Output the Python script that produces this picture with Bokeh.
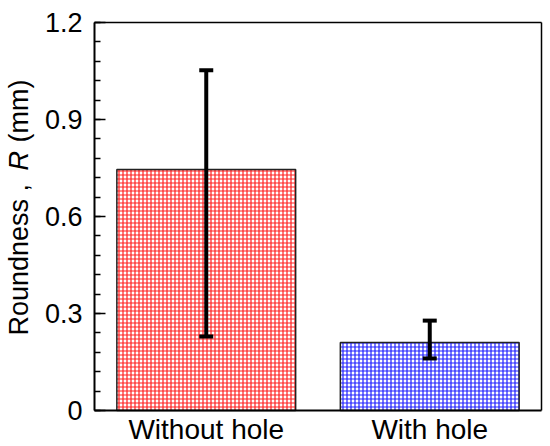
import math
from bokeh.plotting import figure
from bokeh.models import (ColumnDataSource, FixedTicker, Range1d, Label, Whisker, TeeHead, LinearAxis)
from bokeh.embed import file_html
from bokeh.resources import INLINE

categories = ["Without hole", "With hole"]
positions = [1, 2]
means = [0.745, 0.210]
upper = [1.052, 0.278]
lower = [0.229, 0.161]
hatch_colors = ["#ff2020", "#2020ff"]
y_ticks = [0, 0.3, 0.6, 0.9, 1.2]
y_tick_labels = ["0", "0.3", "0.6", "0.9", "1.2"]
y_minor = [round(i * 0.06, 2) for i in range(21)]

FONT = "Liberation Sans"
FS = "27px"

# layout (pixels): plotting box from x=94..541, y=22..410 inside a 544x446 canvas
W, H = 544, 446
BX0, BX1, BY0, BY1 = 94, 541, 22, 410
XMIN, XMAX, YMIN, YMAX = 0.5, 2.5, 0.0, 1.2
kx = (BX1 - BX0) / (XMAX - XMIN)
ky = (BY1 - BY0) / (YMAX - YMIN)
x_range = Range1d(XMIN - BX0 / kx, XMAX + (W - BX1) / kx)
y_range = Range1d(YMIN - (H - BY1) / ky, YMAX + BY0 / ky)

p = figure(width=W, height=H, output_backend="svg", toolbar_location=None,
           x_range=x_range, y_range=y_range, x_axis_location=None, y_axis_location=None,
           min_border=0)
p.background_fill_color = "white"
p.border_fill_color = "white"
p.grid.visible = False
p.outline_line_color = None

src = ColumnDataSource(dict(x=positions, top=means, up=upper, lo=lower, hc=hatch_colors))
p.vbar(x="x", top="top", bottom=0, width=0.8, source=src, fill_color="white",
       line_color="#222222", line_width=1.5, hatch_pattern="cross", hatch_color="hc",
       hatch_scale=4, hatch_weight=1.2)

w = Whisker(base="x", upper="up", lower="lo", source=src, line_color="black", line_width=4,
            level="overlay",
            upper_head=TeeHead(size=14, line_width=4, line_color="black"),
            lower_head=TeeHead(size=14, line_width=4, line_color="black"))
p.add_layout(w)

ya = LinearAxis(fixed_location=XMIN, bounds=(YMIN, YMAX))
ya.ticker = FixedTicker(ticks=y_ticks, minor_ticks=y_minor)
ya.major_label_overrides = {t: l for t, l in zip(y_ticks, y_tick_labels)}
ya.major_tick_in = 11
ya.major_tick_out = 0
ya.minor_tick_in = 6
ya.minor_tick_out = 0
ya.major_tick_line_width = 1.5
ya.minor_tick_line_width = 1.5
ya.axis_line_width = 2
ya.major_label_text_font = FONT
ya.major_label_text_font_size = FS
ya.major_label_text_color = "black"
ya.major_label_standoff = 12
p.add_layout(ya, "left")

xa = LinearAxis(fixed_location=YMIN, bounds=(XMIN, XMAX))
xa.ticker = FixedTicker(ticks=positions)
xa.major_label_overrides = {t: l for t, l in zip(positions, categories)}
xa.axis_line_width = 2
xa.major_tick_in = 0
xa.major_tick_out = 0
xa.minor_tick_in = 0
xa.minor_tick_out = 0
xa.major_label_text_font = FONT
xa.major_label_text_font_size = "28px"
xa.major_label_text_color = "black"
xa.major_label_standoff = 3
p.add_layout(xa, "below")

top_ax = LinearAxis(fixed_location=YMAX, bounds=(XMIN, XMAX), ticker=FixedTicker(ticks=[]),
                    axis_line_width=1.5, major_tick_in=0, major_tick_out=0,
                    minor_tick_in=0, minor_tick_out=0)
p.add_layout(top_ax, "above")
right_ax = LinearAxis(fixed_location=XMAX, bounds=(YMIN, YMAX), ticker=FixedTicker(ticks=[]),
                      axis_line_width=1.5, major_tick_in=0, major_tick_out=0,
                      minor_tick_in=0, minor_tick_out=0)
p.add_layout(right_ax, "right")

pieces = [("Roundness ,", "normal", 75), ("R", "italic", 240), ("(mm)", "normal", 268)]
for txt, style, yo in pieces:
    p.add_layout(Label(x=XMIN, y=YMIN, text=txt, angle=math.pi / 2, text_align="left",
                       text_baseline="alphabetic", x_offset=-76, y_offset=yo,
                       text_font=FONT, text_font_size=FS, text_font_style=style,
                       text_color="black"))

open("out.html", "w").write(file_html(p, INLINE))
